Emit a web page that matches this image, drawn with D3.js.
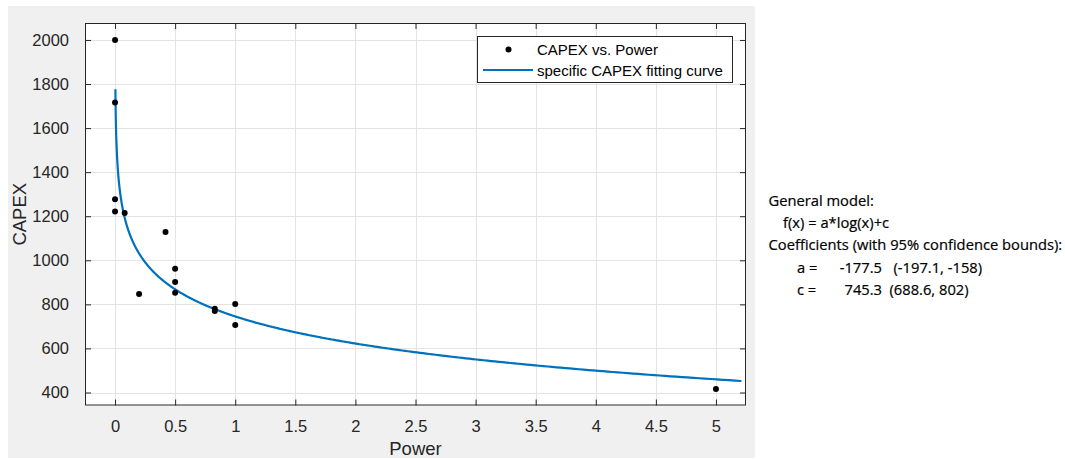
<!DOCTYPE html>
<html><head><meta charset="utf-8">
<script src="https://cdn.jsdelivr.net/npm/d3@7"></script>
<style>
html,body{margin:0;padding:0;background:#fff;}
svg{display:block;}
</style></head>
<body>
<svg id="chart" width="1065" height="459"></svg>
<script>
// ---- data ----
const powerValues = [0, 0, 0, 0, 0.08, 0.42, 0.5, 0.5, 0.5, 0.2, 0.83, 0.83, 1, 1, 5];
const capexValues = [2000, 1716, 1277, 1221, 1215, 1129, 962, 902, 853, 847, 780, 770, 802, 706, 416];
const coefA = -177.5;
const coefC = 745.3;
const xTicks = [0, 0.5, 1, 1.5, 2, 2.5, 3, 3.5, 4, 4.5, 5];
const yTicks = [400, 600, 800, 1000, 1200, 1400, 1600, 1800, 2000];
const legendLabels = ["CAPEX vs. Power", "specific CAPEX fitting curve"];
const modelLines = ["General model:", "f(x) = a*log(x)+c", "Coefficients (with 95% confidence bounds):"];
const coefNames = ["a =", "c ="];
const coefValues = ["-177.5", "745.3"];
const coefBounds = ["(-197.1, -158)", "(688.6, 802)"];

const svg = d3.select("#chart");
const L = 85, R = 746, T = 23, B = 405.5;
const x = d3.scaleLinear().domain([-0.25, 5.25]).range([L, R]);
const y = d3.scaleLinear().domain([341, 2077]).range([B, T]);
const axisColor = "#262626";
const font = "'Liberation Sans', Arial, Helvetica, sans-serif";

// figure background
svg.append("rect").attr("x", 8).attr("y", 6).attr("width", 747).attr("height", 452).attr("fill", "#f0f0f0");
// plot area
svg.append("rect").attr("x", L).attr("y", T).attr("width", R - L).attr("height", B - T).attr("fill", "#fff");

// grid
const grid = svg.append("g").attr("stroke", "#e3e3e3").attr("stroke-width", 1);
grid.selectAll(".gx").data(xTicks).join("line")
  .attr("x1", d => Math.round(x(d)) + 0.5).attr("x2", d => Math.round(x(d)) + 0.5)
  .attr("y1", T).attr("y2", B);
grid.selectAll(".gy").data(yTicks).join("line")
  .attr("y1", d => Math.round(y(d)) + 0.5).attr("y2", d => Math.round(y(d)) + 0.5)
  .attr("x1", L).attr("x2", R);

// axes
function styleAxis(g, showText) {
  g.select(".domain").remove();
  g.selectAll(".tick line").attr("stroke", axisColor).attr("stroke-width", 1);
  g.selectAll(".tick text").attr("fill", axisColor).attr("font-family", font).attr("font-size", "16.5px");
  if (!showText) g.selectAll(".tick text").remove();
}
const fmt = d => String(d);
svg.append("g").attr("transform", `translate(0,${B})`)
  .call(d3.axisBottom(x).tickValues(xTicks).tickFormat(fmt).tickSizeInner(-6).tickPadding(15))
  .call(g => styleAxis(g, true));
svg.append("g").attr("transform", `translate(0,${T})`)
  .call(d3.axisTop(x).tickValues(xTicks).tickSizeInner(-6))
  .call(g => styleAxis(g, false));
svg.append("g").attr("transform", `translate(${L},0)`)
  .call(d3.axisLeft(y).tickValues(yTicks).tickFormat(fmt).tickSizeInner(-6).tickPadding(16))
  .call(g => styleAxis(g, true));
svg.append("g").attr("transform", `translate(${R},0)`)
  .call(d3.axisRight(y).tickValues(yTicks).tickSizeInner(-6))
  .call(g => styleAxis(g, false));

// box
svg.append("rect").attr("x", L + 0.5).attr("y", T + 0.5).attr("width", R - L - 1).attr("height", B - T - 1)
  .attr("fill", "none").attr("stroke", axisColor).attr("stroke-width", 1);

// axis labels
svg.append("text").attr("x", (L + R) / 2).attr("y", 455).attr("text-anchor", "middle")
  .attr("font-family", font).attr("font-size", "18.5px").attr("fill", axisColor).text("Power");
svg.append("text").attr("transform", `translate(26,${(T + B) / 2}) rotate(-90)`).attr("text-anchor", "middle")
  .attr("font-family", font).attr("font-size", "18.5px").attr("fill", axisColor).text("CAPEX");

// fitted curve from coefficients
const curveX = d3.range(Math.log(0.003), Math.log(5.25) + 1e-9, 0.01).map(Math.exp);
svg.append("clipPath").attr("id", "clip").append("rect")
  .attr("x", L).attr("y", T).attr("width", R - L).attr("height", B - T);
svg.append("path").datum(curveX)
  .attr("clip-path", "url(#clip)")
  .attr("fill", "none").attr("stroke", "#0072BD").attr("stroke-width", 2.2)
  .attr("d", d3.line().x(d => x(d)).y(d => y(coefA * Math.log(d) + coefC)));

// points
svg.append("g").selectAll("circle").data(powerValues.map((p, i) => [p, capexValues[i]])).join("circle")
  .attr("cx", d => x(d[0])).attr("cy", d => y(d[1])).attr("r", 3).attr("fill", "#000");

// legend
const lg = svg.append("g");
lg.append("rect").attr("x", 477.5).attr("y", 36.5).attr("width", 255).attr("height", 46)
  .attr("fill", "#fff").attr("stroke", axisColor).attr("stroke-width", 1);
lg.append("circle").attr("cx", 508.5).attr("cy", 49.5).attr("r", 3).attr("fill", "#000");
lg.append("line").attr("x1", 483).attr("x2", 533).attr("y1", 70).attr("y2", 70)
  .attr("stroke", "#0072BD").attr("stroke-width", 2.2);
lg.selectAll("text").data(legendLabels).join("text")
  .attr("x", 537).attr("y", (d, i) => 55 + i * 20.5)
  .attr("font-family", font).attr("font-size", "15px").attr("fill", "#000").text(d => d);

// model text
const tf = "'Open Sans', 'Noto Sans', sans-serif";
const mt = svg.append("g").attr("font-family", tf).attr("fill", "#000")
  .attr("stroke", "#000").attr("stroke-width", 0.2);
const probe = mt.append("text").attr("font-size", "14px").text(modelLines[2]);
const w = probe.node().getComputedTextLength();
probe.remove();
const fs = 14 * 294 / w;
mt.attr("font-size", fs + "px");
mt.append("text").attr("x", 768.5).attr("y", 206).text(modelLines[0]);
mt.append("text").attr("x", 783).attr("y", 227.5).text(modelLines[1]);
mt.append("text").attr("x", 768.5).attr("y", 250).text(modelLines[2]);
const rowsY = [272.5, 294.5];
coefNames.forEach((n, i) => {
  mt.append("text").attr("x", 797).attr("y", rowsY[i]).text(n);
  mt.append("text").attr("x", 882).attr("y", rowsY[i]).attr("text-anchor", "end").text(coefValues[i]);
  mt.append("text").attr("x", i === 0 ? 893.5 : 889.5).attr("y", rowsY[i]).text(coefBounds[i]);
});
</script>
</body></html>
